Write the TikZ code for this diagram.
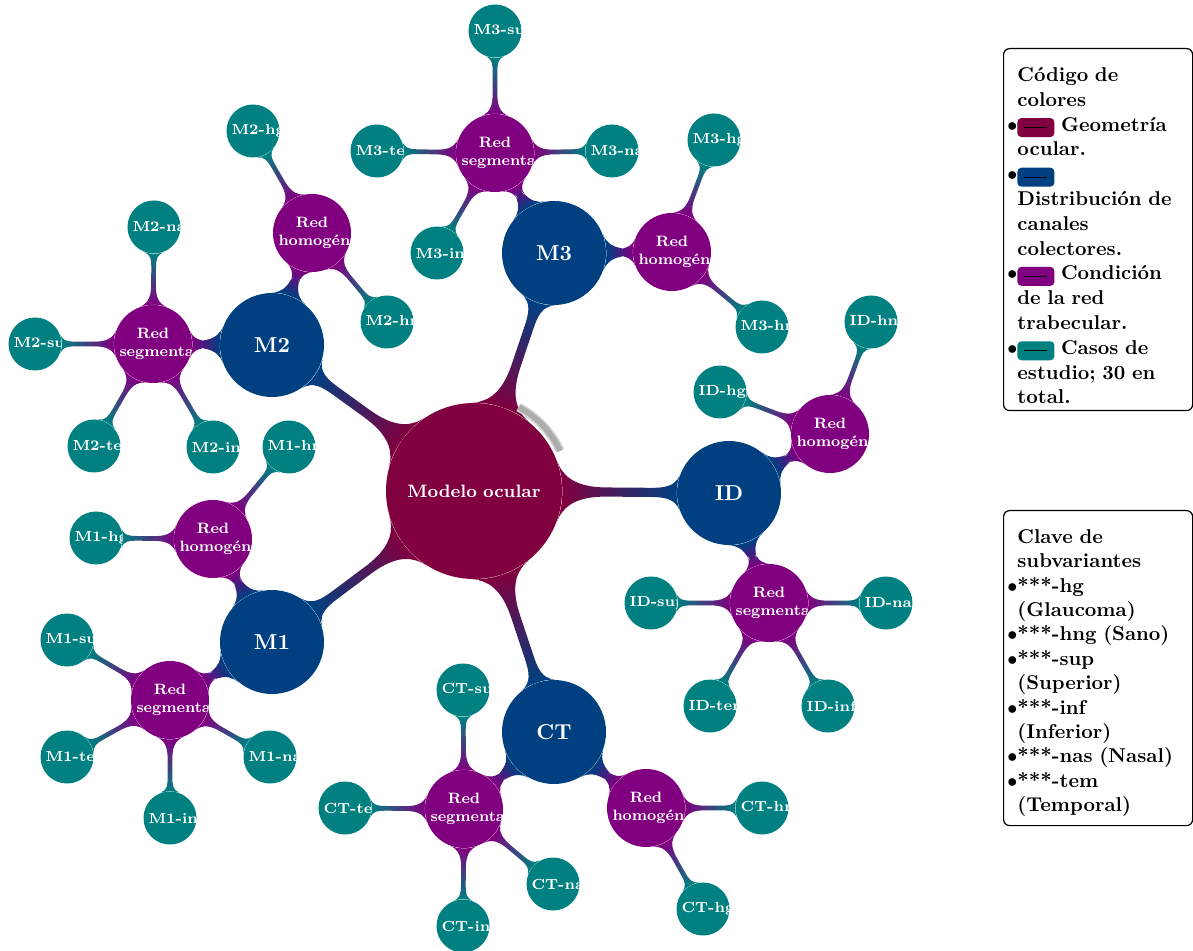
\documentclass[tikz,border=0pt]{standalone}
\usetikzlibrary{mindmap}

\definecolor{geo}{RGB}{128,0,64}
\definecolor{canal}{RGB}{0,64,128}
\definecolor{trab}{RGB}{128,0,128}
\definecolor{caso}{RGB}{0,128,128}

% small coloured chip used in the colour key
\newcommand{\colorchip}[1]{\tikz[baseline=3pt]{\fill[#1,rounded corners=2pt] (0pt,0pt) rectangle (18.5pt,9.5pt); \draw[black,line width=0.5pt] (3.5pt,4.75pt) -- (15pt,4.75pt);}}
\newcommand{\itembullet}{\leavevmode\llap{$\bullet$}}

\tikzset{
  nodetext/.style={circle, text=white, inner sep=0pt, align=center,
    execute at begin node={\hyphenpenalty=10000 \exhyphenpenalty=10000 }},
  raizcon/.style={nodetext, fill=geo, minimum size=88pt, text width=80pt,
    font=\fontsize{9}{11}\selectfont\bfseries},
  canalcon/.style={nodetext, fill=canal, minimum size=52pt, text width=46pt,
    font=\fontsize{10.8}{13}\selectfont\bfseries},
  trabcon/.style={nodetext, fill=trab, minimum size=39pt, text width=33.5pt,
    font=\fontsize{7.5}{9}\selectfont\bfseries},
  casocon/.style={nodetext, fill=caso, minimum size=26.5pt, text width=21.5pt,
    font=\fontsize{7.3}{8.8}\selectfont\bfseries},
  barA/.style={circle connection bar switch color=from (geo) to (canal), line width=5pt},
  barB/.style={circle connection bar switch color=from (canal) to (trab), line width=3.5pt},
  barC/.style={circle connection bar switch color=from (trab) to (caso), line width=2.5pt},
  legendbox/.style={draw, rounded corners=3pt, line width=0.6pt, minimum width=94.5pt,
    anchor=north west, inner sep=0pt},
  legendtext/.style={anchor=north west, inner sep=0pt, text width=83pt, align=left,
    execute at begin node={\hyphenpenalty=10000 }},
}

\begin{document}
\begin{tikzpicture}[x=0.5pt,y=0.5pt]
\useasboundingbox (0,0) rectangle (1193,-951);

% central concept and the five collector-channel variants
\node[raizcon] (raiz) at (474,-491) {Modelo ocular};
\node[canalcon] (m3) at (554,-253) {M3};
\node[canalcon] (m2) at (272,-345) {M2};
\node[canalcon] (m1) at (272,-642) {M1};
\node[canalcon] (id) at (729,-493) {ID};
\node[canalcon] (ct) at (554,-732) {CT};

% trabecular network condition
\node[trabcon] (m3seg) at (495,-153) {Red segmentada};
\node[trabcon] (m3hom) at (672,-252) {Red homogénea};
\node[trabcon] (m2hom) at (312,-233) {Red homogénea};
\node[trabcon] (m2seg) at (153,-344) {Red segmentada};
\node[trabcon] (m1hom) at (213,-539) {Red homogénea};
\node[trabcon] (m1seg) at (170,-700) {Red segmentada};
\node[trabcon] (idhom) at (830,-434) {Red homogénea};
\node[trabcon] (idseg) at (769,-603) {Red segmentada};
\node[trabcon] (ctseg) at (464,-809) {Red segmentada};
\node[trabcon] (cthom) at (646,-808) {Red homogénea};

% study cases
\node[casocon] (m3sup) at (495,-31) {M3-sup};
\node[casocon] (m3tem) at (377,-151) {M3-tem};
\node[casocon] (m3nas) at (612,-151) {M3-nas};
\node[casocon] (m3inf) at (437,-253) {M3-inf};
\node[casocon] (m3hg) at (714,-140) {M3-hg};
\node[casocon] (m3hng) at (762,-327) {M3-hng};
\node[casocon] (m2hg) at (253,-131) {M2-hg};
\node[casocon] (m2hng) at (387,-322) {M2-hng};
\node[casocon] (m2nas) at (154,-227) {M2-nas};
\node[casocon] (m2sup) at (35,-344) {M2-sup};
\node[casocon] (m2tem) at (94,-446) {M2-tem};
\node[casocon] (m2inf) at (213,-447) {M2-inf};
\node[casocon] (m1hng) at (289,-447) {M1-hng};
\node[casocon] (m1hg) at (96,-538) {M1-hg};
\node[casocon] (m1sup) at (67,-640) {M1-sup};
\node[casocon] (m1tem) at (67,-757) {M1-tem};
\node[casocon] (m1nas) at (270,-757) {M1-nas};
\node[casocon] (m1inf) at (170,-818) {M1-inf};
\node[casocon] (idhng) at (871,-322) {ID-hng};
\node[casocon] (idhg) at (720,-392) {ID-hg};
\node[casocon] (idsup) at (651,-603) {ID-sup};
\node[casocon] (idnas) at (886,-603) {ID-nas};
\node[casocon] (idtem) at (710,-706) {ID-tem};
\node[casocon] (idinf) at (828,-706) {ID-inf};
\node[casocon] (ctsup) at (463,-690) {CT-sup};
\node[casocon] (cttem) at (345,-808) {CT-tem};
\node[casocon] (ctnas) at (553,-884) {CT-nas};
\node[casocon] (ctinf) at (463,-926) {CT-inf};
\node[casocon] (cthng) at (762,-808) {CT-hng};
\node[casocon] (cthg) at (703,-909) {CT-hg};

% connection bars, laid over the concepts
\foreach \t in {m3,m2,m1,id,ct}
  \path (raiz) to[barA] (\t);
\foreach \s/\t in {m3/m3seg,m3/m3hom,m2/m2hom,m2/m2seg,m1/m1hom,m1/m1seg,
                   id/idhom,id/idseg,ct/ctseg,ct/cthom}
  \path (\s) to[barB] (\t);
\foreach \s/\t in {m3seg/m3sup,m3seg/m3tem,m3seg/m3nas,m3seg/m3inf,
                   m3hom/m3hg,m3hom/m3hng,
                   m2hom/m2hg,m2hom/m2hng,
                   m2seg/m2nas,m2seg/m2sup,m2seg/m2tem,m2seg/m2inf,
                   m1hom/m1hng,m1hom/m1hg,
                   m1seg/m1sup,m1seg/m1tem,m1seg/m1nas,m1seg/m1inf,
                   idhom/idhng,idhom/idhg,
                   idseg/idsup,idseg/idnas,idseg/idtem,idseg/idinf,
                   ctseg/ctsup,ctseg/cttem,ctseg/ctnas,ctseg/ctinf,
                   cthom/cthng,cthom/cthg}
  \path (\s) to[barC] (\t);

% soft grey rim on the central concept
\draw[gray!35, line width=4.5pt] ([shift={(62:95)}]raiz.center) arc[start angle=62, end angle=25, radius=47.5pt];
\draw[gray!65, line width=2.8pt] ([shift={(62:95)}]raiz.center) arc[start angle=62, end angle=25, radius=47.5pt];

% colour key
\node[legendbox, minimum height=181pt] (legcol) at (1003,-48) {};
\node[legendtext, font=\fontsize{10}{12.4}\selectfont\bfseries] (legcoltext) at (1017,-67) {Código de colores\\
  \itembullet\colorchip{geo} Geometría ocular.\\
  \itembullet\colorchip{canal} Distribución~de canales colectores.\\
  \itembullet\colorchip{trab} Condición de la red trabecular.\\
  \itembullet\colorchip{caso} Casos de estudio; 30 en total.};

% sub-variant key
\node[legendbox, minimum height=157.5pt] (legsub) at (1003,-510) {};
\node[legendtext, font=\fontsize{10}{12.2}\selectfont\bfseries] (legsubtext) at (1017,-529) {Clave de subvariantes\\
  \itembullet***-hg (Glaucoma)\\
  \itembullet***-hng (Sano)\\
  \itembullet***-sup (Superior)\\
  \itembullet***-inf (Inferior)\\
  \itembullet***-nas (Nasal)\\
  \itembullet***-tem (Temporal)};
\end{tikzpicture}
\end{document}
